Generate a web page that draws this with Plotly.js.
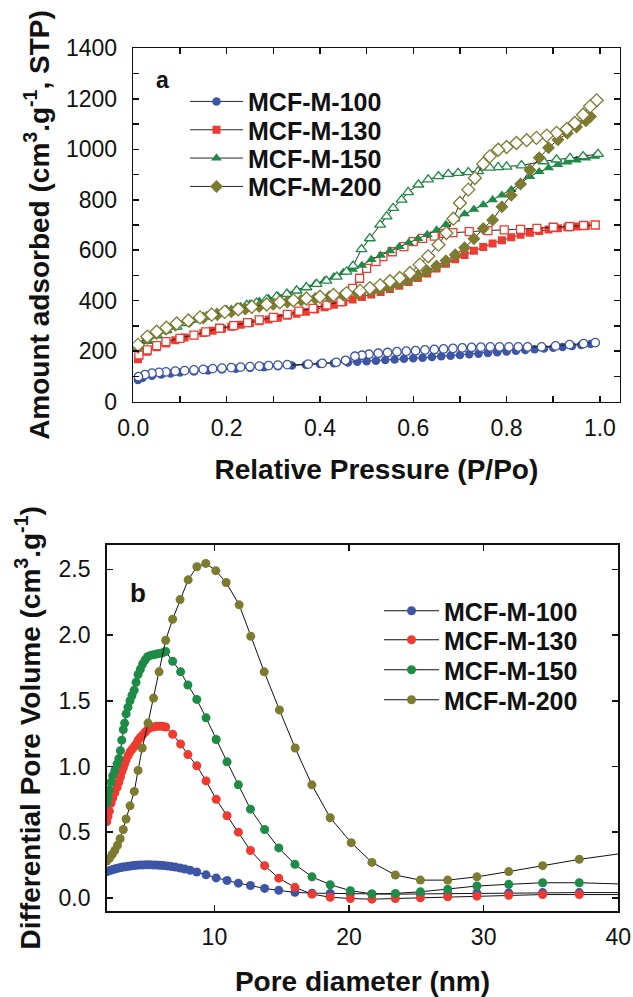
<!DOCTYPE html>
<html><head><meta charset="utf-8">
<script src="https://cdn.plot.ly/plotly-3.0.1.min.js"></script>
<style>html,body{margin:0;padding:0;background:#fff}#chart{width:633px;height:997px}</style>
</head><body><div id="chart"></div>
<script>
// ---------- shared ----------
const samples = ['MCF-M-100','MCF-M-130','MCF-M-150','MCF-M-200'];

// ---------- panel a : N2 isotherms (P/Po, cm3/g STP) ----------
const p100Ads = [0.01,0.02,0.04,0.06,0.08,0.10,0.13,0.16,0.19,0.22,0.25,0.28,0.31,0.34,0.37,0.40,0.43,0.46,0.48,0.50,0.52,0.54,0.56,0.58,0.60,0.62,0.64,0.66,0.68,0.70,0.72,0.74,0.76,0.78,0.80,0.82,0.84,0.86,0.88,0.90,0.92,0.94,0.96,0.98];
const v100Ads = [86,95,103,108,112,116,120,124,128,131,134,137,140,143,146,149,152,155,158,160,162,165,167,170,172,174,177,180,182,185,188,190,193,196,199,202,205,208,211,214,217,221,225,229];
const p100Des = [0.99,0.965,0.935,0.905,0.875,0.845,0.825,0.805,0.785,0.765,0.745,0.725,0.705,0.685,0.665,0.645,0.625,0.605,0.585,0.565,0.545,0.525,0.505,0.49,0.475,0.455,0.435,0.405,0.375,0.33,0.31,0.29,0.27,0.25,0.23,0.21,0.19,0.17,0.15,0.13,0.11,0.09,0.07,0.055,0.04,0.025,0.011];
const v100Des = [234,230,226,221,217,217,217,217,217,217,216,215,213,211,209,207,205,202,200,198,195,192,188,184,180,164,156,152,149,147,145,143,141,139,137,135,133,131,128,126,123,121,118,116,113,107,99];

const p130Ads = [0.01,0.03,0.05,0.07,0.09,0.11,0.13,0.15,0.17,0.19,0.21,0.23,0.25,0.27,0.29,0.31,0.33,0.35,0.37,0.39,0.41,0.43,0.45,0.47,0.49,0.51,0.53,0.55,0.57,0.59,0.61,0.63,0.65,0.67,0.69,0.71,0.73,0.75,0.77,0.79,0.81,0.83,0.85,0.87,0.89,0.91,0.93,0.95,0.97,0.99];
const v130Ads = [168,198,216,231,243,254,263,272,281,289,297,305,312,319,326,333,340,348,356,365,374,384,395,405,415,425,435,446,459,474,490,508,528,546,564,581,598,613,627,640,651,661,669,676,682,687,691,694,697,700];
const p130Des = [0.99,0.965,0.935,0.9,0.865,0.83,0.795,0.76,0.72,0.685,0.665,0.645,0.62,0.6,0.58,0.555,0.535,0.52,0.5,0.485,0.47,0.445,0.415,0.385,0.355,0.33,0.3,0.27,0.245,0.215,0.185,0.155,0.13,0.1,0.07,0.05,0.03,0.012];
const v130Des = [700,698,694,691,687,683,681,678,674,670,667,656,647,634,614,594,575,555,528,489,449,396,383,370,359,346,334,324,313,301,291,277,264,251,238,222,205,185];

const p150Ads = [0.01,0.03,0.05,0.07,0.09,0.11,0.13,0.15,0.17,0.19,0.21,0.23,0.25,0.27,0.29,0.31,0.33,0.35,0.37,0.39,0.41,0.43,0.45,0.47,0.49,0.51,0.53,0.55,0.57,0.59,0.61,0.63,0.65,0.67,0.69,0.71,0.73,0.75,0.77,0.79,0.81,0.83,0.85,0.87,0.89,0.91,0.93,0.95,0.97,0.99];
const v150Ads = [215,238,260,280,293,308,322,333,345,356,366,377,388,398,409,419,430,442,454,467,480,495,512,524,540,563,580,598,614,630,646,662,680,702,723,744,762,780,800,818,840,866,892,911,926,939,949,957,965,972];
const p150Des = [0.996,0.964,0.936,0.907,0.879,0.832,0.8,0.782,0.764,0.739,0.718,0.696,0.675,0.654,0.632,0.611,0.589,0.575,0.557,0.543,0.529,0.507,0.489,0.471,0.457,0.436,0.414,0.393,0.371,0.35,0.329,0.307,0.286,0.264,0.243,0.221,0.2,0.179,0.157,0.136,0.114,0.093,0.071,0.05,0.028,0.01];
const v150Des = [981,972,965,959,952,936,931,929,927,913,909,906,902,893,880,860,830,800,767,734,701,647,604,538,515,495,479,466,453,440,427,416,406,392,383,370,361,350,337,326,313,297,284,264,244,222];

const p200Ads = [0.01,0.03,0.05,0.07,0.09,0.12,0.15,0.18,0.21,0.24,0.27,0.30,0.33,0.36,0.39,0.42,0.45,0.48,0.51,0.53,0.55,0.57,0.59,0.61,0.63,0.65,0.67,0.69,0.71,0.73,0.75,0.77,0.79,0.81,0.83,0.85,0.87,0.89,0.91,0.93,0.95,0.97,0.98];
const v200Ads = [215,250,270,287,303,318,332,344,356,367,377,386,395,402,409,416,423,430,438,446,456,468,483,500,518,538,558,582,610,646,686,720,772,818,862,918,966,1006,1038,1063,1088,1113,1130];
const p200Des = [0.993,0.979,0.964,0.946,0.929,0.907,0.886,0.864,0.843,0.821,0.8,0.782,0.764,0.75,0.732,0.718,0.7,0.686,0.671,0.654,0.632,0.614,0.593,0.571,0.55,0.529,0.507,0.486,0.457,0.429,0.4,0.371,0.343,0.314,0.286,0.254,0.225,0.196,0.168,0.143,0.118,0.093,0.071,0.05,0.03,0.01];
const v200Des = [1194,1170,1137,1104,1080,1065,1054,1045,1036,1025,1009,998,972,942,886,840,787,725,668,622,576,543,510,490,477,461,450,439,430,423,416,409,402,394,385,376,366,356,345,334,322,310,293,277,258,225];

// ---------- panel b : pore size distribution (nm, cm3/g) ----------
const d100 = [2.0,2.15,2.3,2.45,2.6,2.75,2.9,3.05,3.2,3.4,3.6,3.8,4.0,4.2,4.45,4.7,4.95,5.2,5.45,5.7,5.95,6.2,6.5,6.8,7.1,7.45,7.8,8.2,8.69,9.38,10.13,10.94,11.78,12.68,13.73,14.78,15.98,17.25,18.6,20.1,21.7,23.44,25.3,27.33,29.5,31.86,34.38,37.1,40.4];
const dv100 = [0.20,0.205,0.21,0.215,0.22,0.224,0.228,0.231,0.234,0.237,0.24,0.243,0.246,0.248,0.25,0.251,0.252,0.252,0.251,0.25,0.248,0.246,0.243,0.239,0.234,0.227,0.22,0.21,0.197,0.175,0.152,0.132,0.112,0.094,0.072,0.057,0.042,0.036,0.033,0.031,0.029,0.028,0.030,0.032,0.035,0.038,0.040,0.040,0.040];

const d130 = [2.0,2.1,2.2,2.32,2.45,2.6,2.77,2.9,3.02,3.12,3.23,3.33,3.44,3.58,3.73,3.88,4.04,4.18,4.33,4.5,4.67,4.85,5.03,5.25,5.48,5.7,5.93,6.15,6.38,6.9,7.49,8.03,8.69,9.38,10.13,10.94,11.78,12.68,13.73,14.78,15.98,17.25,18.6,20.1,21.7,23.44,25.3,27.33,29.5,31.86,34.38,37.1,40.4];
const dv130 = [0.58,0.62,0.66,0.72,0.76,0.80,0.84,0.88,0.92,0.96,0.99,1.02,1.05,1.08,1.11,1.13,1.15,1.17,1.20,1.22,1.24,1.26,1.28,1.295,1.30,1.305,1.305,1.305,1.30,1.245,1.17,1.09,1.005,0.89,0.75,0.625,0.50,0.36,0.245,0.15,0.08,0.028,0.005,-0.005,-0.01,-0.005,0.0,0.008,0.013,0.02,0.025,0.025,0.025];

const d150 = [2.0,2.1,2.2,2.32,2.45,2.6,2.77,2.9,3.02,3.12,3.23,3.33,3.44,3.58,3.73,3.88,4.04,4.18,4.33,4.5,4.67,4.85,5.03,5.25,5.48,5.7,5.93,6.15,6.38,6.9,7.49,8.03,8.69,9.38,10.13,10.94,11.78,12.68,13.73,14.78,15.98,17.25,18.6,20.1,21.7,23.44,25.3,27.33,29.5,31.86,34.38,37.1,40.4];
const dv150 = [0.72,0.76,0.82,0.88,0.93,0.97,1.02,1.06,1.12,1.20,1.28,1.33,1.40,1.45,1.50,1.54,1.58,1.64,1.70,1.74,1.78,1.81,1.835,1.845,1.85,1.855,1.86,1.865,1.875,1.80,1.72,1.62,1.51,1.37,1.205,1.035,0.86,0.675,0.52,0.38,0.255,0.16,0.10,0.055,0.03,0.034,0.046,0.065,0.09,0.103,0.115,0.115,0.105];

const d200 = [2.0,2.2,2.4,2.6,2.8,3.0,3.23,3.44,3.73,4.05,4.33,4.64,5.07,5.48,5.89,6.38,6.9,7.45,8.05,8.7,9.36,10.1,10.87,11.84,12.7,13.7,14.83,16.0,17.24,18.6,20.16,21.7,23.44,25.3,27.33,29.5,31.86,34.38,37.1,40.4];
const dv200 = [0.28,0.30,0.33,0.36,0.40,0.45,0.52,0.60,0.70,0.81,0.97,1.14,1.33,1.52,1.72,1.96,2.12,2.27,2.42,2.52,2.545,2.49,2.40,2.23,1.99,1.72,1.43,1.14,0.86,0.61,0.42,0.27,0.174,0.135,0.135,0.16,0.20,0.245,0.293,0.34];

// ---------- styling ----------
const FONT = 'Liberation Sans, Arial, Helvetica, sans-serif';
const colors = ['#3d55a6','#ee3a31','#1e8b46','#7c7b30'];
const symbolsA = ['circle','square','triangle-up','diamond'];
const sizesA = [8.5,8,9.5,10];

const isoSets = [
  [p100Ads, v100Ads, p100Des, v100Des],
  [p130Ads, v130Ads, p130Des, v130Des],
  [p150Ads, v150Ads, p150Des, v150Des],
  [p200Ads, v200Ads, p200Des, v200Des]
];
const psdSets = [[d100, dv100],[d130, dv130],[d150, dv150],[d200, dv200]];

// one legend box per entry so the row spacing can follow the reference
const legIdA = ['legend','legend2','legend3','legend4'];
const legIdB = ['legend5','legend6','legend7','legend8'];

const traces = [];
isoSets.forEach((set, i) => {
  traces.push({
    type:'scatter', mode:'lines+markers', x:set[0], y:set[1], xaxis:'x', yaxis:'y',
    name: samples[i], legend:legIdA[i], showlegend:true,
    line:{color:'#111', width:0.9},
    marker:{symbol:symbolsA[i], size:sizesA[i], color:colors[i], line:{color:colors[i], width:0}}
  });
  traces.push({
    type:'scatter', mode:'lines+markers', x:set[2], y:set[3], xaxis:'x', yaxis:'y',
    name: samples[i] + ' desorption', showlegend:false,
    line:{color:'#111', width:0.9},
    marker:{symbol:symbolsA[i], size:sizesA[i], color:'#ffffff', line:{color:colors[i], width:1.3}}
  });
});
psdSets.forEach((set, i) => {
  traces.push({
    type:'scatter', mode:'lines+markers', x:set[0], y:set[1], xaxis:'x2', yaxis:'y2',
    name: samples[i], legend:legIdB[i], showlegend:true,
    line:{color:'#111', width:1},
    marker:{symbol:'circle', size:9, color:colors[i], line:{width:0}}
  });
});

const tickFont = {family:FONT, size:23, color:'#111'};
const titleFont = {family:FONT, size:28, color:'#111', weight:'bold'};
const axBase = {showgrid:false, zeroline:false, showline:true, linecolor:'#111', linewidth:1.6,
  ticks:'inside', ticklen:6, tickwidth:1.5, tickcolor:'#111', mirror:'allticks', tickfont:tickFont};

const H = 997, W = 633;
const layout = {
  width:W, height:H, margin:{l:0,r:0,t:0,b:0}, paper_bgcolor:'#fff', plot_bgcolor:'#fff',
  font:{family:FONT, color:'#111', size:14},
  xaxis: Object.assign({}, axBase, {
    domain:[133.3/W, 619.5/W], anchor:'y', range:[0,1.042], tick0:0, dtick:0.2, tickformat:'.1f',
    minor:{dtick:0.1, ticks:'inside', ticklen:6, tickwidth:1.5, tickcolor:'#111'},
    ticklabelstandoff:5,
    title:{text:'Relative Pressure (P/Po)', font:titleFont, standoff:19}
  }),
  yaxis: Object.assign({}, axBase, {
    domain:[1-401.7/H, 1-48.3/H], anchor:'x', range:[0,1400], tick0:0, dtick:200,
    minor:{dtick:100, ticks:'inside', ticklen:6, tickwidth:1.5, tickcolor:'#111'},
    ticklabelstandoff:10,
    title:{text:'Amount adsorbed (cm<sup>3</sup>.g<sup>-1</sup>, STP)', font:titleFont, standoff:8}
  }),
  xaxis2: Object.assign({}, axBase, {
    domain:[106.7/W, 618.3/W], anchor:'y2', range:[2,40], tick0:0, dtick:10,
    ticklabelstandoff:5,
    title:{text:'Pore diameter (nm)', font:titleFont, standoff:26}
  }),
  yaxis2: Object.assign({}, axBase, {
    domain:[1-911/H, 1-544.5/H], anchor:'x2', range:[-0.1,2.689], tick0:0, dtick:0.5, tickformat:'.1f',
    ticklabelstandoff:10,
    title:{text:'Differential Pore Volume (cm<sup>3</sup>.g<sup>-1</sup>)', font:titleFont, standoff:10}
  }),
  annotations:[
    {text:'a', xref:'paper', yref:'paper', x:162.7/W, y:1-80/H, xanchor:'center', yanchor:'middle', showarrow:false, font:{family:FONT, size:23, color:'#111', weight:'bold'}},
    {text:'b', xref:'paper', yref:'paper', x:138.3/W, y:1-592.5/H, xanchor:'center', yanchor:'middle', showarrow:false, font:{family:FONT, size:26, color:'#111', weight:'bold'}}
  ]
};

const rowsA = [101.7, 130, 158.3, 186.7];
const rowsB = [611, 640, 670, 700];
const legFont = {family:FONT, size:25, color:'#111', weight:'bold'};
rowsA.forEach((r, i) => {
  layout[legIdA[i]] = {x:185/W, y:1-r/H, xanchor:'left', yanchor:'middle', bgcolor:'rgba(0,0,0,0)',
    borderwidth:0, font:legFont, itemwidth:53};
});
rowsB.forEach((r, i) => {
  layout[legIdB[i]] = {x:379/W, y:1-r/H, xanchor:'left', yanchor:'middle', bgcolor:'rgba(0,0,0,0)',
    borderwidth:0, font:legFont, itemwidth:55};
});

Plotly.newPlot('chart', traces, layout, {staticPlot:true, displayModeBar:false});
</script>
</body></html>
